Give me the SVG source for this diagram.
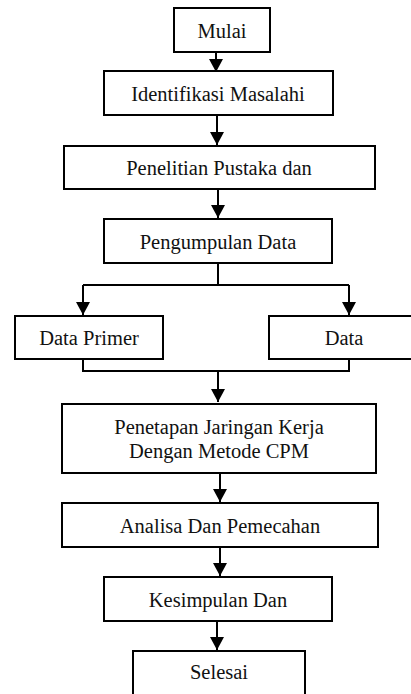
<svg xmlns="http://www.w3.org/2000/svg" width="411" height="694" viewBox="0 0 411 694">
<style>
.box{fill:#fff;stroke:#000;stroke-width:2}
.t{font-family:"Liberation Serif","Times New Roman",serif;font-size:20.5px;fill:#111;text-anchor:middle}
.c{fill:none;stroke:#000;stroke-width:2}
</style>
<defs>
<marker id="ah" markerUnits="userSpaceOnUse" markerWidth="14" markerHeight="14" refX="13" refY="7" orient="auto">
<path d="M0,0 L13,7 L0,14 z" fill="#000"/>
</marker>
</defs>
<rect width="411" height="694" fill="#fff"/>
<g id="connectors">
<line class="c" x1="216" y1="52" x2="216" y2="72" marker-end="url(#ah)"/>
<line class="c" x1="217" y1="115" x2="217" y2="145" marker-end="url(#ah)"/>
<line class="c" x1="218" y1="189" x2="218" y2="218" marker-end="url(#ah)"/>
<path class="c" d="M218,263 V285 M83,285 H349"/>
<line class="c" x1="83" y1="285" x2="83" y2="315" marker-end="url(#ah)"/>
<line class="c" x1="349" y1="285" x2="349" y2="315" marker-end="url(#ah)"/>
<path class="c" d="M83,359 V371 H349 V359"/>
<line class="c" x1="218" y1="371" x2="218" y2="402" marker-end="url(#ah)"/>
<line class="c" x1="220" y1="473" x2="220" y2="502" marker-end="url(#ah)"/>
<line class="c" x1="220" y1="547" x2="220" y2="576" marker-end="url(#ah)"/>
<line class="c" x1="217" y1="621" x2="217" y2="650" marker-end="url(#ah)"/>
</g>
<g id="mulai"><rect class="box" x="174" y="8" width="96" height="44"/><text class="t" x="222" y="38">Mulai</text></g>
<g id="identifikasi"><rect class="box" x="104" y="71" width="229" height="44"/><text class="t" x="218" y="101">Identifikasi Masalahi</text></g>
<g id="penelitian"><rect class="box" x="64" y="146" width="311" height="43"/><text class="t" x="219" y="175">Penelitian Pustaka dan</text></g>
<g id="pengumpulan"><rect class="box" x="104" y="219" width="228" height="44"/><text class="t" x="218" y="249">Pengumpulan Data</text></g>
<g id="dataprimer"><rect class="box" x="15" y="316" width="148" height="43"/><text class="t" x="89" y="345">Data Primer</text></g>
<g id="data"><rect class="box" x="269" y="316" width="152" height="43"/><text class="t" x="344" y="345">Data</text></g>
<g id="penetapan"><rect class="box" x="62" y="404" width="314" height="69"/><text class="t" x="219" y="434">Penetapan Jaringan Kerja</text><text class="t" x="219" y="458">Dengan Metode CPM</text></g>
<g id="analisa"><rect class="box" x="62" y="503" width="316" height="44"/><text class="t" x="220" y="533">Analisa Dan Pemecahan</text></g>
<g id="kesimpulan"><rect class="box" x="104" y="577" width="228" height="44"/><text class="t" x="218" y="607">Kesimpulan Dan</text></g>
<g id="selesai"><rect class="box" x="133" y="651" width="172" height="46"/><text class="t" x="219" y="679">Selesai</text></g>
</svg>
